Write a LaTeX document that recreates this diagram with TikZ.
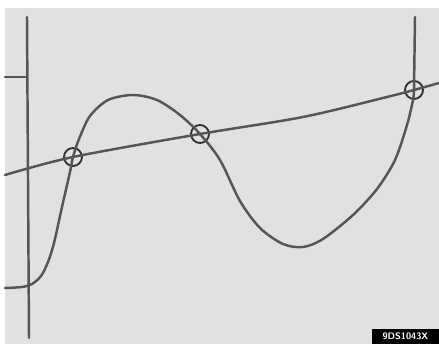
\documentclass[tikz,border=0pt]{standalone}
\usepackage{xcolor}
\definecolor{panelgray}{RGB}{225, 225, 225}
\definecolor{inkgray}{RGB}{85, 85, 85}
\usepackage{tikz}
\usetikzlibrary{positioning}

\begin{document}
\begin{tikzpicture}[x=0.03cm, y=-0.03cm,
        curve/.style={draw=inkgray, line width=2.1pt, line cap=round, line join=round},
        crossing/.style={circle, draw=black!80, line width=1.6pt, minimum size=0.54cm, inner sep=0pt},
        tag/.style={fill=black, text=white, font=\sffamily\bfseries\footnotesize, inner sep=1pt, minimum width=2cm, minimum height=0.45cm}]

        % Fondo del panel
        \useasboundingbox (0,0) rectangle (439,344);
        \fill [panelgray] (5,8) rectangle (439,344);

        % Eje vertical y marca
        \coordinate (axtop) at (27,17);
        \coordinate (axbot) at (29,338);
        \coordinate (tickl) at (5,77);
        \coordinate (tickr) at (27,77);
        \draw [curve] (axtop) -- (axbot);
        \draw [curve] (tickl) -- (tickr);

        % Puntos de corte
        \node [crossing] (p1) at (73,157) {};
        \node [crossing] (p2) at (200,134) {};
        \node [crossing] (p3) at (414,90) {};

        % Recta casi lineal
        \draw [curve] plot [smooth] coordinates {(5,175) (73,157) (200,134) (303,117) (387,97) (414,90) (439,83)};

        % Curva principal
        \draw [curve] plot [smooth] coordinates {(5,288) (22,287) (32,284) (41,276) (48,262) (54,243) (62,207) (70,172) (73,157) (79,139) (90,116) (108,100) (133,95) (157,100) (180,115) (200,134) (220,160) (240,201) (260,228) (283,244) (303,247) (323,239) (353,215) (377,189) (395,160) (407,125) (413,100) (414,90)} -- (415,17);

        % Código de la figura
        \node [tag, anchor=south east] (code) at (439,344) {9DS1043X};
    \end{tikzpicture}
\end{document}
